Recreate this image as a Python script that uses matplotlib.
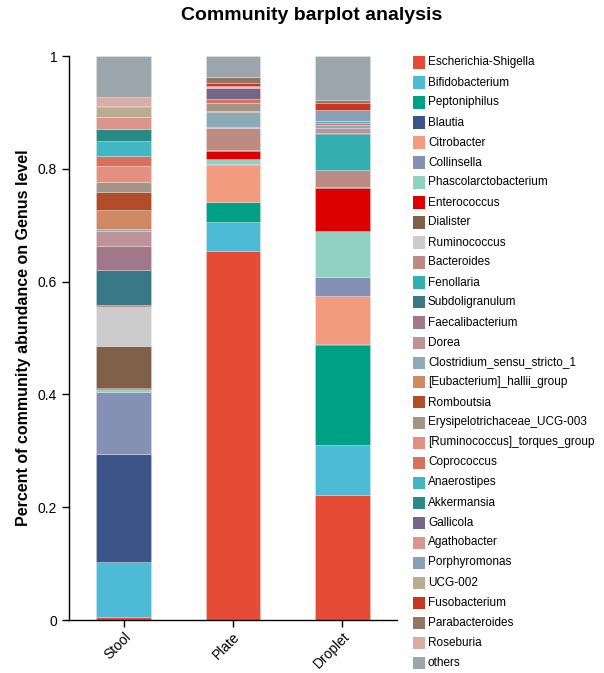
import matplotlib
matplotlib.use("Agg")
import matplotlib.pyplot as plt
from matplotlib.patches import Rectangle
import numpy as np

plt.rcParams['font.family'] = ['Liberation Sans', 'DejaVu Sans']

samples = ["Stool", "Plate", "Droplet"]

genera = [
    "Escherichia-Shigella", "Bifidobacterium", "Peptoniphilus", "Blautia",
    "Citrobacter", "Collinsella", "Phascolarctobacterium", "Enterococcus",
    "Dialister", "Ruminococcus", "Bacteroides", "Fenollaria",
    "Subdoligranulum", "Faecalibacterium", "Dorea", "Clostridium_sensu_stricto_1",
    "[Eubacterium]_hallii_group", "Romboutsia", "Erysipelotrichaceae_UCG-003",
    "[Ruminococcus]_torques_group", "Coprococcus", "Anaerostipes", "Akkermansia",
    "Gallicola", "Agathobacter", "Porphyromonas", "UCG-002", "Fusobacterium",
    "Parabacteroides", "Roseburia", "others",
]

colors = [
    "#E64B35", "#4DBBD5", "#00A087", "#3C5488",
    "#F39B7F", "#8491B4", "#91D1C2", "#DC0000",
    "#7E6148", "#CCCCCC", "#BC8B83", "#34AEAE",
    "#387887", "#A07888", "#BE9299", "#8CAAB8",
    "#CF8A64", "#B24D2B", "#A49387",
    "#E49080", "#D8705C", "#43B6C4", "#2A8A86",
    "#746689", "#DB958C", "#8A9EB5", "#B9AC90", "#C6371F",
    "#927663", "#D9ADA5", "#9AA5AC",
]

stool = [0.006, 0.097, 0.0, 0.192, 0.0, 0.109, 0.006, 0.001, 0.074, 0.070,
         0.003, 0.0, 0.063, 0.042, 0.027, 0.004, 0.033, 0.031, 0.018, 0.029,
         0.018, 0.026, 0.022, 0.0, 0.021, 0.0, 0.017, 0.0, 0.002, 0.016, 0.073]
plate = [0.654, 0.052, 0.036, 0.0, 0.064, 0.003, 0.009, 0.013, 0.002, 0.0,
         0.039, 0.0, 0.0, 0.0, 0.002, 0.027, 0.002, 0.0, 0.014, 0.0,
         0.007, 0.0, 0.0, 0.019, 0.002, 0.002, 0.0, 0.006, 0.009, 0.0, 0.038]
droplet = [0.221, 0.090, 0.176, 0.002, 0.086, 0.034, 0.081, 0.076, 0.002, 0.0,
           0.029, 0.064, 0.002, 0.0, 0.009, 0.006, 0.0, 0.0, 0.0, 0.0,
           0.003, 0.003, 0.0, 0.0, 0.0, 0.020, 0.0, 0.012, 0.006, 0.0, 0.078]

W, H = 604, 673
fig = plt.figure(figsize=(W / 100, H / 100), dpi=100)
ax = fig.add_axes([69 / W, (H - 620) / H, (397 - 69) / W, (620 - 56) / H])

data = np.array([stool, plate, droplet])
x = np.arange(len(samples))
bottom = np.zeros(len(samples))
for i, name in enumerate(genera):
    ax.bar(x, data[:, i], 0.5, bottom=bottom, color=colors[i],
           edgecolor=(1, 1, 1, 0.25), linewidth=0.6)
    bottom += data[:, i]

ax.set_xlim(-0.5, 2.5)
ax.set_ylim(0, 1)
ax.set_yticks([0, 0.2, 0.4, 0.6, 0.8, 1])
ax.set_yticklabels(["0", "0.2", "0.4", "0.6", "0.8", "1"])
ax.set_xticks(x)
ax.set_xticklabels(samples, rotation=45, ha="right", va="top", rotation_mode="anchor")
ax.tick_params(labelsize=10, length=5, width=1, color="black")
ax.tick_params(axis="x", pad=2)
ax.spines["top"].set_visible(False)
ax.spines["right"].set_visible(False)
for s in ["left", "bottom"]:
    ax.spines[s].set_linewidth(1)

ax.set_ylabel("Percent of community abundance on Genus level",
              fontsize=11.5, fontweight="bold", labelpad=5)
fig.text(312 / W, 1 - 15 / H, "Community barplot analysis", ha="center", va="center",
         fontsize=14, fontweight="bold")

# legend, drawn in pixel positions
for i, name in enumerate(genera):
    yc = 62.5 + 20 * i
    fig.add_artist(Rectangle((413 / W, 1 - (yc + 6) / H), 12 / W, 12 / H,
                             transform=fig.transFigure, facecolor=colors[i],
                             edgecolor="none"))
    fig.text(428 / W, 1 - yc / H, name, ha="left", va="center", fontsize=8.5)

fig.savefig("out.png", dpi=100)
